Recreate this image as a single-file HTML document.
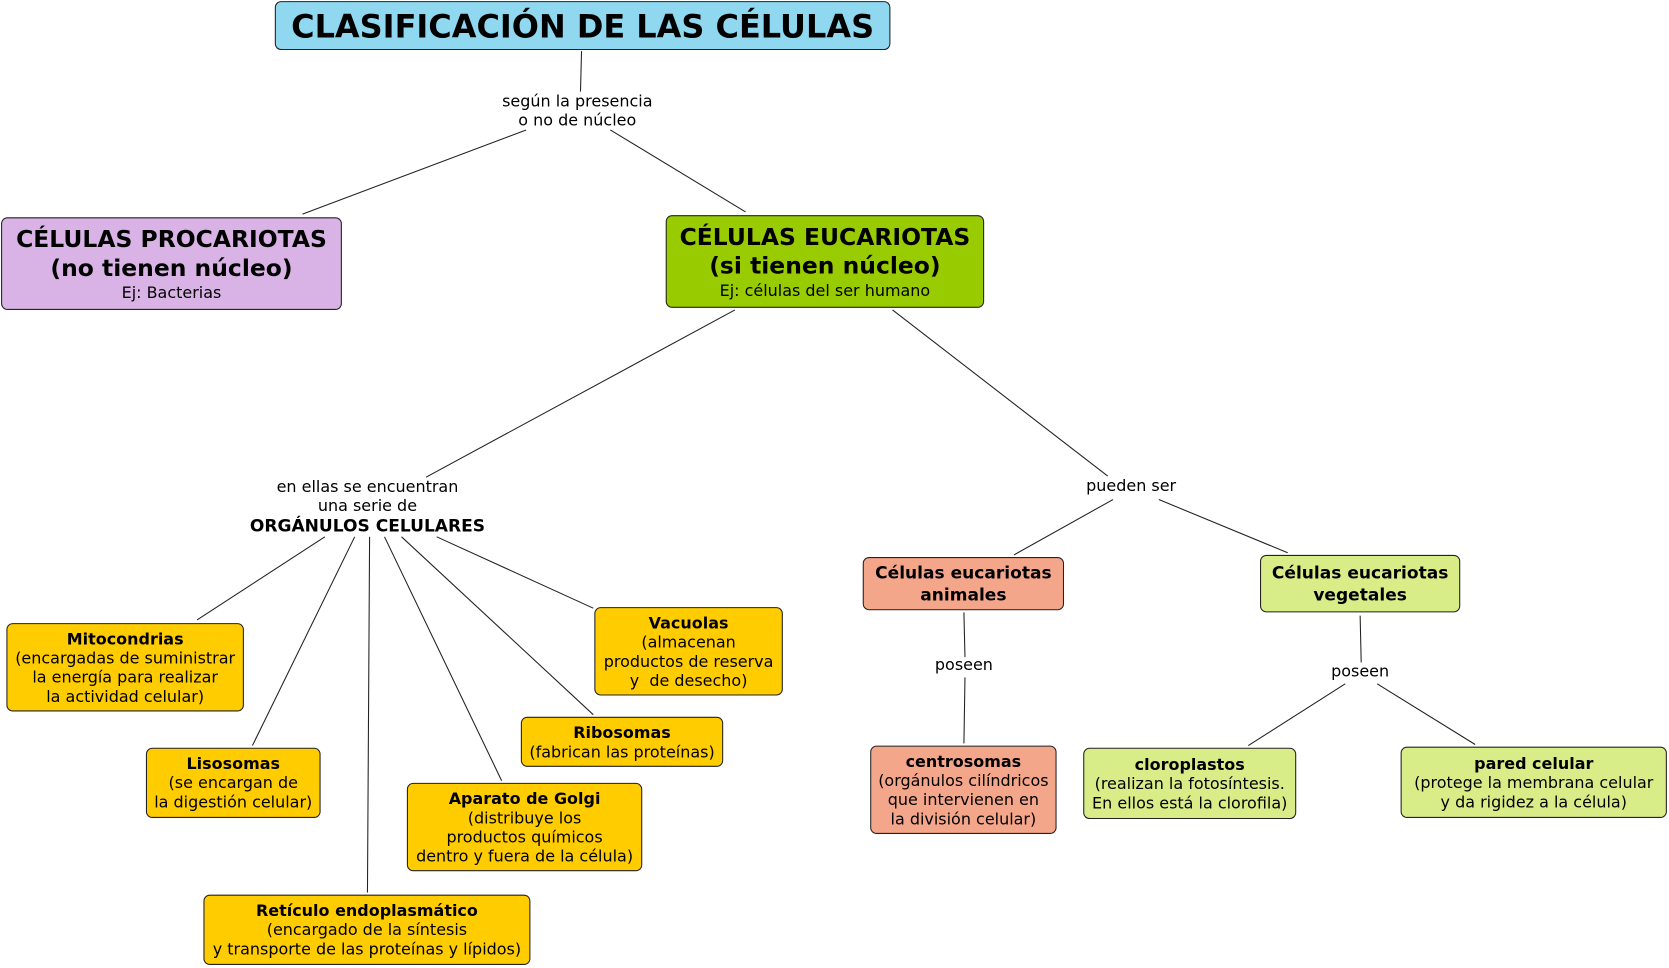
<!DOCTYPE html>
<html><head><meta charset="utf-8"><style>
html,body{margin:0;padding:0;background:#fff;overflow:hidden;width:1669px;height:968px}
#w{position:absolute;left:0;top:0;width:1567px;height:909px;transform:scale(1.0651);transform-origin:0 0;font-family:"DejaVu Sans","Liberation Sans",sans-serif;color:#000}
.b{position:absolute;box-sizing:border-box;border:1px solid #222;border-radius:6px;display:flex;flex-direction:column;justify-content:center;align-items:center;text-align:center;font-size:15px;line-height:18px;white-space:nowrap}
.l{position:absolute;text-align:center;font-size:15px;line-height:18px;white-space:nowrap;transform:translateX(-50%)}
.o{background:#ffcc00}
.bb{font-weight:bold}
.big{font-family:"DejaVu Sans","Liberation Sans",sans-serif;font-weight:bold;font-size:22px;line-height:27px}
svg{position:absolute;left:0;top:0}
</style></head><body><div id="w">
<svg width="1567" height="909" stroke="#222" stroke-width="1">
<line x1="546" y1="48" x2="545" y2="86"/>
<line x1="494" y1="122" x2="284" y2="201"/>
<line x1="573" y1="122" x2="700" y2="199"/>
<line x1="690" y1="291" x2="400" y2="448"/>
<line x1="838" y1="291" x2="1040" y2="447"/>
<line x1="305" y1="504" x2="185" y2="582"/>
<line x1="333" y1="504" x2="237" y2="700"/>
<line x1="347" y1="504" x2="345" y2="838"/>
<line x1="361" y1="504" x2="471" y2="733"/>
<line x1="377" y1="504" x2="557" y2="671"/>
<line x1="410" y1="504" x2="557" y2="571"/>
<line x1="1045" y1="469" x2="952" y2="521"/>
<line x1="1088" y1="469" x2="1209" y2="519"/>
<line x1="905" y1="575" x2="906" y2="617"/>
<line x1="906" y1="636" x2="905" y2="698"/>
<line x1="1277" y1="578" x2="1278" y2="622"/>
<line x1="1263" y1="642" x2="1172" y2="700"/>
<line x1="1293" y1="642" x2="1385" y2="699"/>
</svg>
<div class="b" style="left:258px;top:1px;width:578px;height:46px;background:#8fd8f0;font-weight:bold;font-size:30px;line-height:36px;padding-top:4px">CLASIFICACIÓN DE LAS CÉLULAS</div>
<div class="l" style="left:542px;top:86px">según la presencia<br>o no de núcleo</div>
<div class="b" style="left:1px;top:204px;width:320px;height:87px;background:#d9b3e6"><div class="big">CÉLULAS PROCARIOTAS<br>(no tienen núcleo)</div><div>Ej: Bacterias</div></div>
<div class="b" style="left:625px;top:202px;width:299px;height:87px;background:#99cc00"><div class="big">CÉLULAS EUCARIOTAS<br>(si tienen núcleo)</div><div>Ej: células del ser humano</div></div>
<div class="l" style="left:345px;top:448px">en ellas se encuentran<br>una serie de<br><b style="font-size:16px;line-height:20px">ORGÁNULOS CELULARES</b></div>
<div class="l" style="left:1062px;top:447px">pueden ser</div>
<div class="b o" style="left:6px;top:585px;width:223px;height:83px"><b>Mitocondrias</b>(encargadas de suministrar<br>la energía para realizar<br>la actividad celular)</div>
<div class="b o" style="left:137px;top:702px;width:164px;height:66px"><b>Lisosomas</b>(se encargan de<br>la digestión celular)</div>
<div class="b o" style="left:191px;top:840px;width:307px;height:66px"><b>Retículo endoplasmático</b>(encargado de la síntesis<br>y transporte de las proteínas y lípidos)</div>
<div class="b o" style="left:382px;top:735px;width:221px;height:83px"><b>Aparato de Golgi</b>(distribuye los<br>productos químicos<br>dentro y fuera de la célula)</div>
<div class="b o" style="left:489px;top:673px;width:190px;height:47px"><b>Ribosomas</b>(fabrican las proteínas)</div>
<div class="b o" style="left:558px;top:570px;width:177px;height:83px"><b>Vacuolas</b>(almacenan<br>productos de reserva<br>y &nbsp;de desecho)</div>
<div class="b" style="left:810px;top:523px;width:189px;height:50px;background:#f4a68a;font-weight:bold;font-size:16px;line-height:21px">Células eucariotas<br>animales</div>
<div class="b" style="left:1183px;top:521px;width:188px;height:54px;background:#d8ec88;font-weight:bold;font-size:16px;line-height:21px">Células eucariotas<br>vegetales</div>
<div class="l" style="left:905px;top:615px">poseen</div>
<div class="l" style="left:1277px;top:621px">poseen</div>
<div class="b" style="left:817px;top:700px;width:175px;height:83px;background:#f4a68a"><b>centrosomas</b>(orgánulos cilíndricos<br>que intervienen en<br>la división celular)</div>
<div class="b" style="left:1017px;top:702px;width:200px;height:67px;background:#d8ec88"><b>cloroplastos</b>(realizan la fotosíntesis.<br>En ellos está la clorofila)</div>
<div class="b" style="left:1315px;top:701px;width:250px;height:67px;background:#d8ec88"><b>pared celular</b>(protege la membrana celular<br>y da rigidez a la célula)</div>
</div></body></html>
